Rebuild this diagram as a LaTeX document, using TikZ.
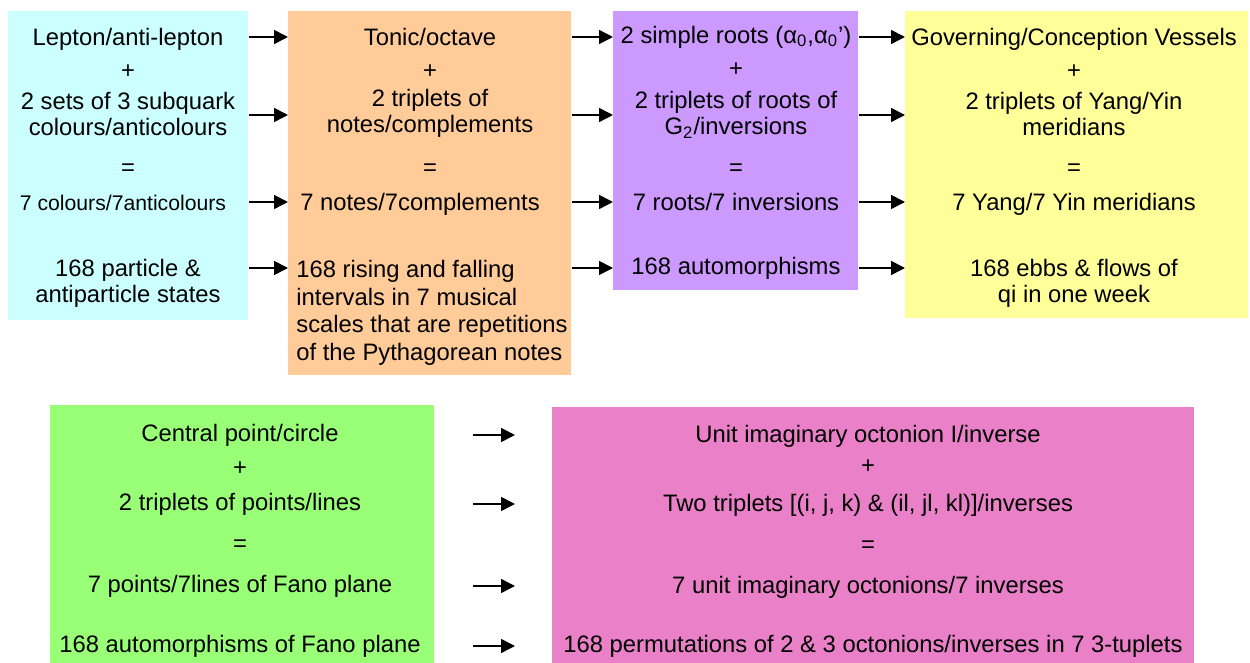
\documentclass[tikz,border=0pt]{standalone}
\usepackage{fontspec}
\setmainfont{Liberation Sans}
\usetikzlibrary{arrows.meta, positioning}

\definecolor{leptoncol}{HTML}{CCFFFF}
\definecolor{musiccol}{HTML}{FFCC99}
\definecolor{rootcol}{HTML}{CC99FF}
\definecolor{qicol}{HTML}{FFFF99}
\definecolor{fanocol}{HTML}{99FF77}
\definecolor{octocol}{HTML}{EA80C8}

\begin{document}
\begin{tikzpicture}[x=0.5pt, y=-0.5pt, >={Triangle[length=7pt,width=7pt]},
    box/.style={rectangle, draw=none, inner sep=0pt, anchor=north west},
    txt/.style={align=center, inner sep=0pt, font=\fontsize{11.9}{13}\selectfont},
    arr/.style={->, line width=0.8pt}]

  \useasboundingbox (0,0) rectangle (1250,663);

  % the six boxes
  \node[box, fill=leptoncol, minimum width=120pt, minimum height=154.5pt] (A) at (8,11) {};
  \node[box, fill=musiccol, minimum width=141.5pt, minimum height=182pt] (B) at (288,11) {};
  \node[box, fill=rootcol, minimum width=122.5pt, minimum height=139.5pt] (C) at (613,11) {};
  \node[box, fill=qicol, minimum width=171.5pt, minimum height=153.5pt] (D) at (905,11) {};
  \node[box, fill=fanocol, minimum width=192pt, minimum height=129pt] (E) at (50,405) {};
  \node[box, fill=octocol, minimum width=321pt, minimum height=128pt] (F) at (552,407) {};

  % leptons
  \node[txt] (a1) at (128,39) {Lepton/anti-lepton};
  \node[txt] (a2) at (128,72) {+};
  \node[txt] (a3) at (128,114) {2 sets of 3 subquark\\colours/anticolours};
  \node[txt] (a4) at (128,170) {=};
  \node[txt, font=\fontsize{10.6}{12}\selectfont] (a5) at (123,203) {7 colours/7anticolours};
  \node[txt] (a6) at (128,283) {168 particle \&\\antiparticle states};

  % music
  \node[txt] (b1) at (430,37) {Tonic/octave};
  \node[txt] (b2) at (430,72) {+};
  \node[txt] (b3) at (430,113) {2 triplets of\\notes/complements};
  \node[txt] (b4) at (430,170) {=};
  \node[txt] (b5) at (420,204) {7 notes/7complements};
  \node[txt, align=left, anchor=west, font=\fontsize{11.9}{13.8}\selectfont] (b6) at (296,313)
    {168 rising and falling\\intervals in 7 musical\\scales that are repetitions\\of the Pythagorean notes};

  % roots
  \node[txt] (c1) at (736,37) {2 simple roots (α\textsubscript{0},α\textsubscript{0}')};
  \node[txt] (c2) at (736,70) {+};
  \node[txt] (c3) at (736,115) {2 triplets of roots of\\G\textsubscript{2}/inversions};
  \node[txt] (c4) at (736,170) {=};
  \node[txt] (c5) at (736,202) {7 roots/7 inversions};
  \node[txt] (c6) at (736,268) {168 automorphisms};

  % meridians
  \node[txt] (d1) at (1074,39) {Governing/Conception Vessels};
  \node[txt] (d2) at (1074,72) {+};
  \node[txt] (d3) at (1074,114) {2 triplets of Yang/Yin\\meridians};
  \node[txt] (d4) at (1074,170) {=};
  \node[txt] (d5) at (1074,204) {7 Yang/7 Yin meridians};
  \node[txt] (d6) at (1074,283) {168 ebbs \& flows of\\qi in one week};

  % Fano plane
  \node[txt] (e1) at (240,435) {Central point/circle};
  \node[txt] (e2) at (240,469) {+};
  \node[txt] (e3) at (240,504) {2 triplets of points/lines};
  \node[txt] (e4) at (240,546) {=};
  \node[txt] (e5) at (240,586) {7 points/7lines of Fano plane};
  \node[txt] (e6) at (240,646) {168 automorphisms of Fano plane};

  % octonions
  \node[txt] (f1) at (868,436) {Unit imaginary octonion I/inverse};
  \node[txt] (f2) at (868,467) {+};
  \node[txt] (f3) at (868,505) {Two triplets [(i, j, k) \& (il, jl, kl)]/inverses};
  \node[txt] (f4) at (868,547) {=};
  \node[txt] (f5) at (868,587) {7 unit imaginary octonions/7 inverses};
  \node[txt] (f6) at (873,646) {168 permutations of 2 \& 3 octonions/inverses in 7 3-tuplets};

  % arrows
  \foreach \l/\r in {A/B, B/C, C/D}
    \foreach \row in {c1, c3, c5, c6}
      \draw[arr] (\l.east |- \row) -- (\r.west |- \row);
  \foreach \row in {e1, e3, e5, e6}
    \draw[arr, shorten <=19pt, shorten >=18.5pt] (E.east |- \row) -- (F.west |- \row);

\end{tikzpicture}
\end{document}
